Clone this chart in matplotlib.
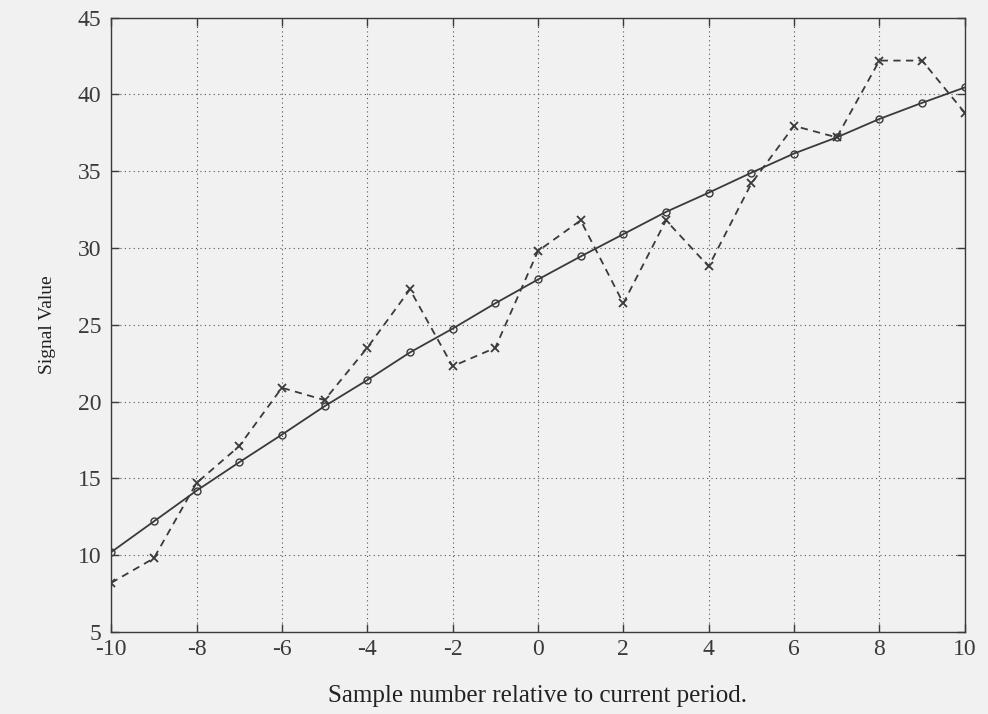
import numpy as np
import matplotlib.pyplot as plt

# sample positions relative to current period
samples = list(range(-10, 11))

# smoothed / fitted signal (solid, circle markers)
fitted = [10.2, 12.2, 14.2, 16.05, 17.85, 19.7, 21.4, 23.2, 24.75, 26.4, 27.95,
          29.45, 30.9, 32.35, 33.6, 34.9, 36.15, 37.2, 38.4, 39.45, 40.45]

# raw measured signal (dashed, x markers)
measured = [8.2, 9.8, 14.7, 17.1, 20.9, 20.1, 23.5, 27.3, 22.3, 23.5, 29.8,
            31.8, 26.4, 31.8, 28.8, 34.2, 37.95, 37.2, 42.2, 42.2, 38.8]

xticks = list(range(-10, 11, 2))
yticks = list(range(5, 46, 5))

plt.rcParams['font.family'] = ['Liberation Serif', 'DejaVu Serif']

bg = '#f1f1f1'
ink = '#3a3a3a'

fig = plt.figure(figsize=(9.88, 7.14), dpi=100, facecolor=bg)
ax = fig.add_axes([0.1125, 0.1148, 0.864, 0.8606], facecolor=bg)

ax.plot(samples, fitted, '-', color=ink, lw=1.3, marker='o', ms=5,
        mfc='none', mec=ink, mew=1.0)
ax.plot(samples, measured, '--', color=ink, lw=1.3, dashes=(4, 3), marker='x',
        ms=6, mec=ink, mew=1.3)

ax.set_xlim(-10, 10)
ax.set_ylim(5, 45)
ax.set_xticks(xticks)
ax.set_yticks(yticks)
ax.set_xticklabels([str(t) for t in xticks])
ax.grid(True, linestyle=(0, (1, 3)), color='#555555', lw=0.8)

ax.tick_params(direction='in', length=6, width=1, colors=ink, labelsize=17,
               top=True, right=True)
ax.tick_params(axis='x', pad=5)
ax.tick_params(axis='y', pad=7)
for s in ax.spines.values():
    s.set_color(ink)
    s.set_linewidth(1.0)

ax.set_xlabel('Sample number relative to current period.', fontsize=18,
              color='#222222', labelpad=18)
ax.set_ylabel('Signal Value', fontsize=14, color='#222222', labelpad=16)

fig.savefig('out.png', dpi=100, facecolor=bg)
